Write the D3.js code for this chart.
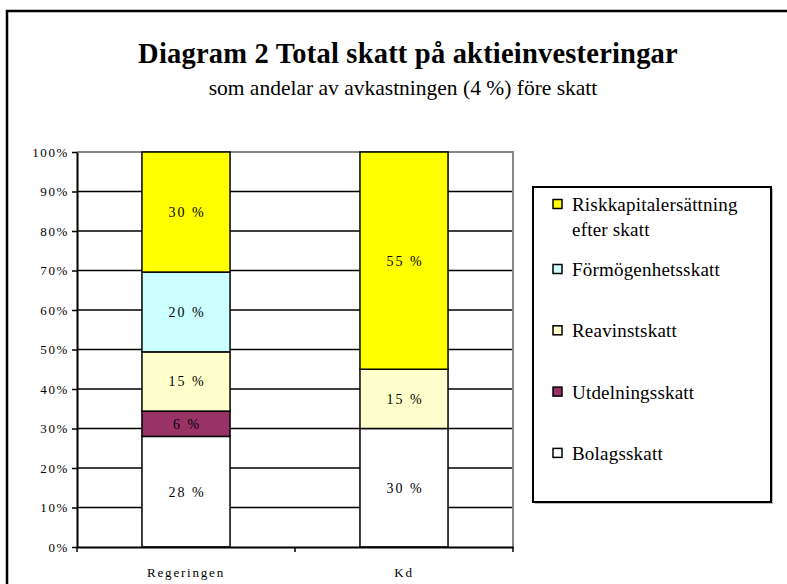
<!DOCTYPE html>
<html>
<head>
<meta charset="utf-8">
<script src="https://cdn.jsdelivr.net/npm/d3@7"></script>
<style>
  body { margin: 0; background: #fff; }
  svg text { font-family: "Liberation Serif", "Times New Roman", serif !important; }
</style>
</head>
<body>
<svg id="chart" width="787" height="584"></svg>
<script>
// data
var categories = ["Regeringen", "Kd"];
var seriesKeys = ["Bolagsskatt", "Utdelningsskatt", "Reavinstskatt", "Förmögenhetsskatt", "Riskkapital"];
var seriesLabels = ["Bolagsskatt", "Utdelningsskatt", "Reavinstskatt", "Förmögenhetsskatt", "Riskkapitalersättning|efter skatt"];
var seriesColors = ["#ffffff", "#993366", "#ffffcc", "#ccffff", "#ffff00"];
var bolagsskatt = [28, 30];
var utdelningsskatt = [6.4, 0];
var reavinstskatt = [15, 15];
var formogenhetsskatt = [20.2, 0];
var riskkapital = [30.4, 55];
var yTicks = [0, 0.1, 0.2, 0.3, 0.4, 0.5, 0.6, 0.7, 0.8, 0.9, 1];

var table = categories.map(function(c, i) {
  return {
    cat: c,
    Bolagsskatt: bolagsskatt[i],
    Utdelningsskatt: utdelningsskatt[i],
    Reavinstskatt: reavinstskatt[i],
    "Förmögenhetsskatt": formogenhetsskatt[i],
    Riskkapital: riskkapital[i]
  };
});

var svg = d3.select("#chart");

// outer frame (runs past the right and bottom edge)
svg.append("rect")
  .attr("x", 7).attr("y", 11)
  .attr("width", 900).attr("height", 700)
  .attr("fill", "none").attr("stroke", "#000").attr("stroke-width", 2.5);

// titles
svg.append("text")
  .attr("x", 408).attr("y", 63)
  .attr("text-anchor", "middle")
  .attr("font-size", 28.5).attr("font-weight", "bold")
  .attr("letter-spacing", 0.2)
  .text("Diagram 2 Total skatt på aktieinvesteringar");
svg.append("text")
  .attr("x", 403).attr("y", 95)
  .attr("text-anchor", "middle")
  .attr("font-size", 21.5)
  .text("som andelar av avkastningen (4 %) före skatt");

var plot = { left: 77, right: 513, top: 152, bottom: 547 };

var x = d3.scaleBand()
  .domain(categories)
  .range([plot.left, plot.right])
  .paddingInner(0.596)
  .paddingOuter(0.298);

var y = d3.scaleLinear()
  .domain([0, 1])
  .range([plot.bottom, plot.top]);

// gridlines
svg.append("g")
  .selectAll("line")
  .data(yTicks.slice(1))
  .enter().append("line")
    .attr("x1", plot.left).attr("x2", plot.right)
    .attr("y1", function(d) { return y(d); })
    .attr("y2", function(d) { return y(d); })
    .attr("stroke", "#000").attr("stroke-width", 1.5);

// plot area border (top and right are grey)
svg.append("path")
  .attr("d", "M" + plot.left + "," + plot.top + "H" + plot.right + "V" + plot.bottom)
  .attr("fill", "none").attr("stroke", "#888").attr("stroke-width", 2);

// stacked 100% bars
var stack = d3.stack().keys(seriesKeys).offset(d3.stackOffsetExpand);
var layers = stack(table);

var layer = svg.append("g")
  .selectAll("g")
  .data(layers)
  .enter().append("g")
    .attr("fill", function(d, i) { return seriesColors[i]; });

layer.selectAll("rect")
  .data(function(d) { return d.filter(function(p) { return p[1] - p[0] > 0; }); })
  .enter().append("rect")
    .attr("x", function(d) { return x(d.data.cat); })
    .attr("width", x.bandwidth())
    .attr("y", function(d) { return y(d[1]); })
    .attr("height", function(d) { return y(d[0]) - y(d[1]); })
    .attr("stroke", "#000").attr("stroke-width", 1.5);

// segment labels
layer.selectAll("text")
  .data(function(d) {
    var key = d.key;
    return d.filter(function(p) { return p[1] - p[0] > 0; })
      .map(function(p) { return { p: p, val: p.data[key] }; });
  })
  .enter().append("text")
    .attr("x", function(d) { return x(d.p.data.cat) + x.bandwidth() / 2 + 1; })
    .attr("y", function(d) { return (y(d.p[0]) + y(d.p[1])) / 2 + 5; })
    .attr("text-anchor", "middle")
    .attr("font-size", 14)
    .attr("letter-spacing", 2)
    .attr("fill", "#000")
    .text(function(d) { return Math.round(d.val) + " %"; });

// y axis
var yAxis = svg.append("g")
  .attr("transform", "translate(" + plot.left + ",0)")
  .call(d3.axisLeft(y).tickValues(yTicks).tickFormat(d3.format(".0%")).tickSize(5).tickSizeOuter(0));
yAxis.select(".domain").attr("stroke", "#000").attr("stroke-width", 2);
yAxis.selectAll(".tick line").attr("stroke", "#000").attr("stroke-width", 1.5);
yAxis.selectAll(".tick text")
  .attr("x", -8)
  .attr("font-size", 13)
  .attr("letter-spacing", 1.6)
  .attr("fill", "#000");

// x axis
var xAxis = svg.append("g")
  .attr("transform", "translate(0," + plot.bottom + ")")
  .call(d3.axisBottom(x).tickSize(0).tickSizeOuter(0));
xAxis.select(".domain").attr("stroke", "#000").attr("stroke-width", 2);
xAxis.selectAll(".tick text")
  .attr("y", 21)
  .attr("font-size", 13)
  .attr("letter-spacing", 1.8)
  .attr("fill", "#000");

// category boundary ticks
var step = x.step();
var bounds = categories.map(function(c) { return x(c) - x.paddingOuter() * step; });
bounds.push(plot.right);
xAxis.append("g")
  .selectAll("line")
  .data(bounds)
  .enter().append("line")
    .attr("x1", function(d) { return d; }).attr("x2", function(d) { return d; })
    .attr("y1", 0).attr("y2", 5)
    .attr("stroke", "#000").attr("stroke-width", 1.5);

// legend
var legend = svg.append("g");
legend.append("rect")
  .attr("x", 535).attr("y", 189)
  .attr("width", 238).attr("height", 315)
  .attr("fill", "#bbb");
legend.append("rect")
  .attr("x", 533).attr("y", 187)
  .attr("width", 238).attr("height", 315)
  .attr("fill", "#fff").attr("stroke", "#000").attr("stroke-width", 2);

var legendOrder = d3.range(seriesKeys.length).reverse();
var item = legend.selectAll("g.item")
  .data(legendOrder)
  .enter().append("g")
    .attr("class", "item")
    .attr("transform", function(d, i) {
      var yy = i === 0 ? 204 : 269 + (i - 1) * 61.3;
      return "translate(553," + yy + ")";
    });

item.append("rect")
  .attr("x", 0).attr("y", -4.5)
  .attr("width", 9).attr("height", 9)
  .attr("fill", function(d) { return seriesColors[d]; })
  .attr("stroke", "#000").attr("stroke-width", 1.5);

item.append("text")
  .attr("x", 19).attr("y", 7)
  .attr("font-size", 19)
  .attr("letter-spacing", 0.2)
  .attr("fill", "#000")
  .each(function(d) {
    var parts = seriesLabels[d].split("|");
    var t = d3.select(this);
    parts.forEach(function(p, j) {
      t.append("tspan")
        .attr("x", 19)
        .attr("dy", j === 0 ? 0 : 25)
        .text(p);
    });
  });
</script>
</body>
</html>
